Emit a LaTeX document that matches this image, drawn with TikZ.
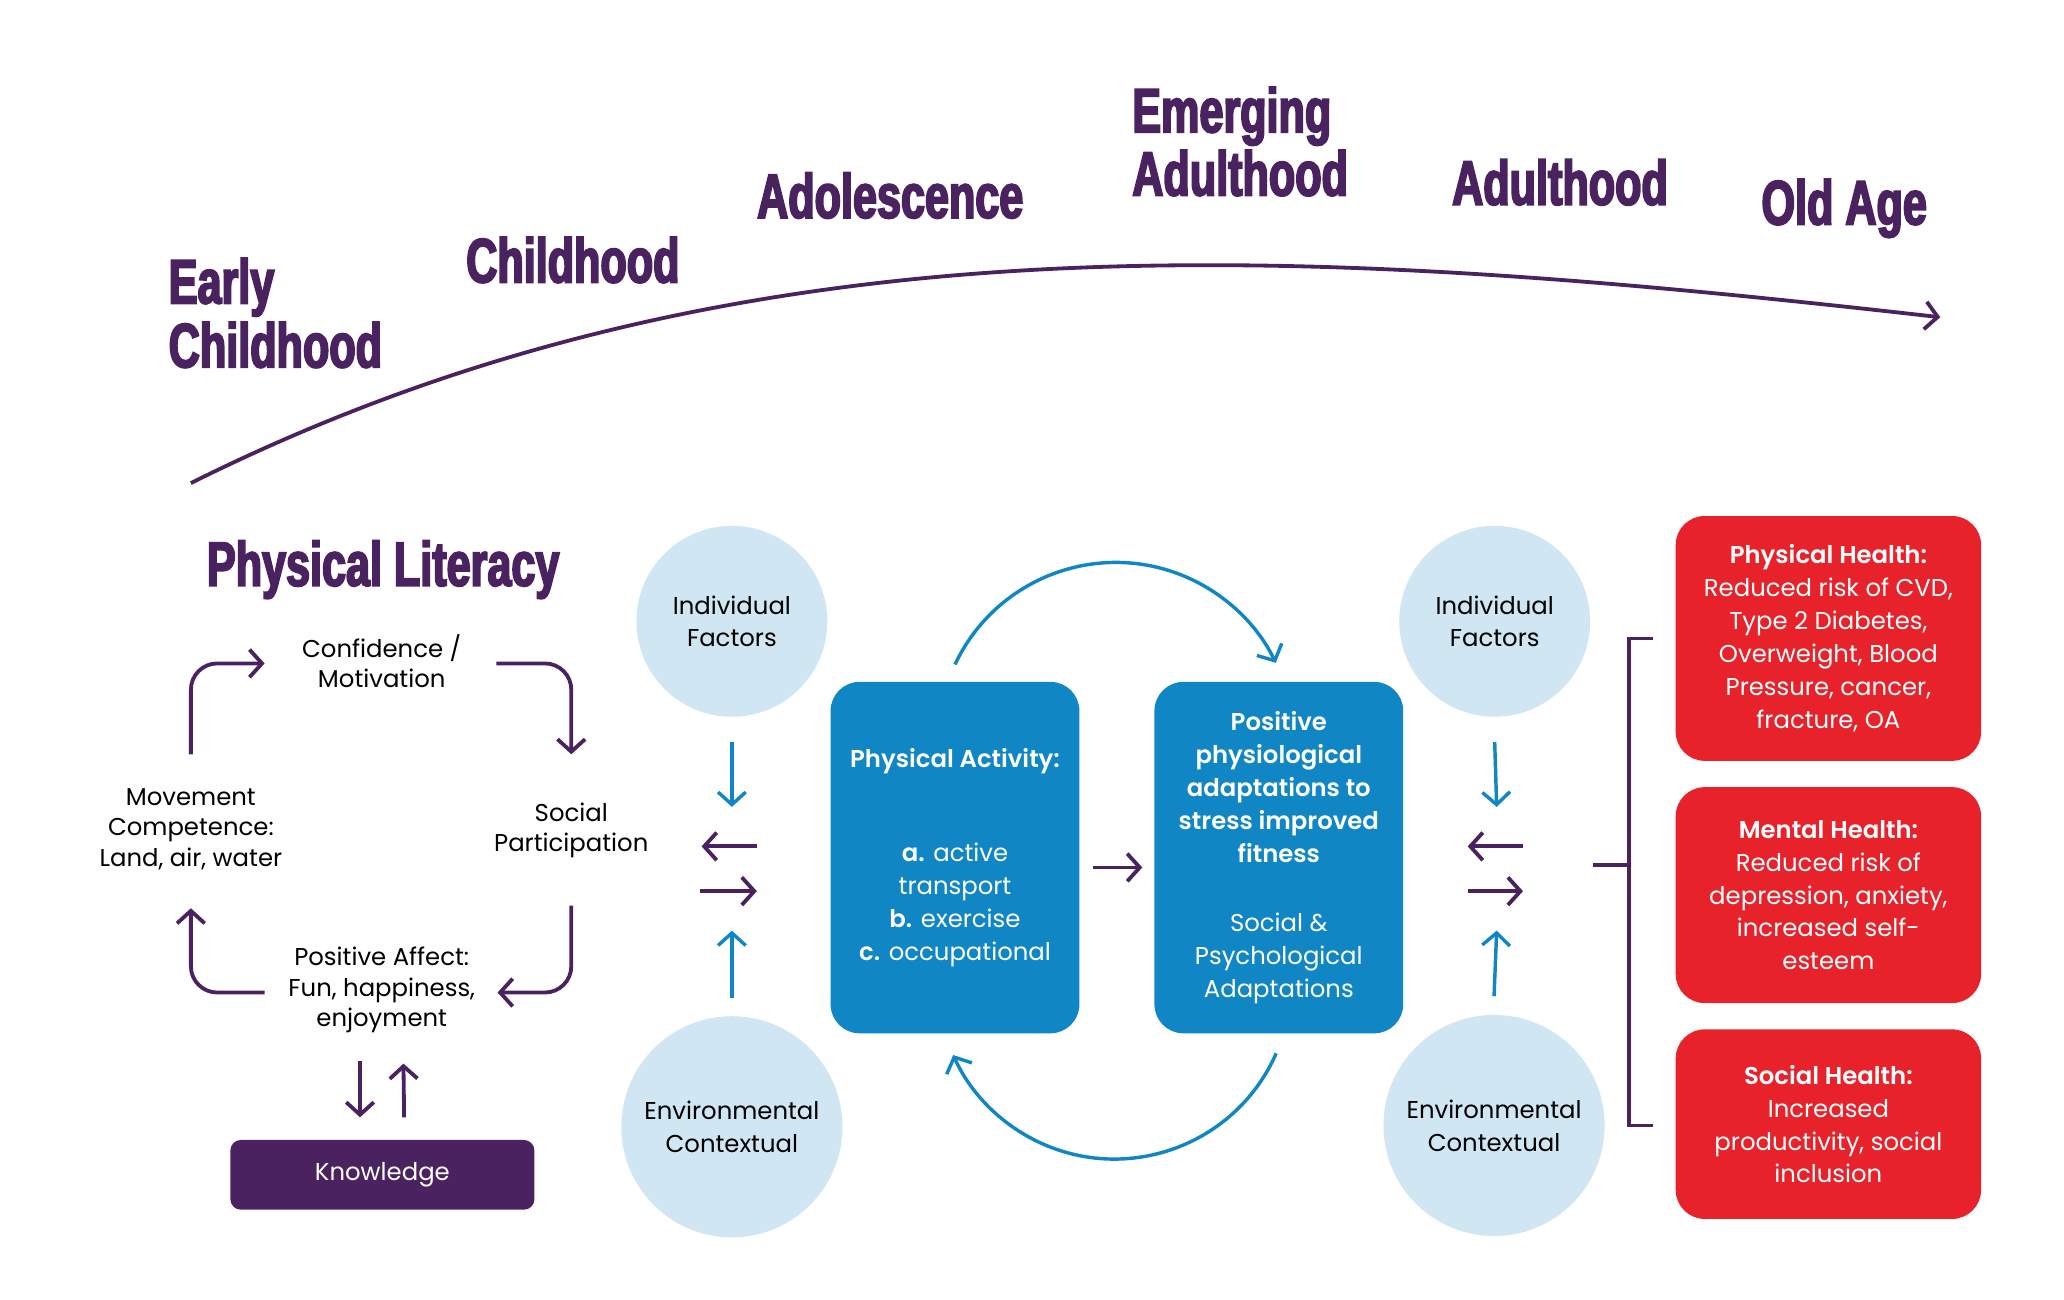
\documentclass[tikz,border=0pt]{standalone}
\usepackage{fontspec}
\setmainfont{Poppins}[BoldFont={Poppins SemiBold}]
\newfontfamily\headfont[FakeStretch=0.69,FakeBold=3]{Liberation Sans}
\usetikzlibrary{arrows.meta}
\definecolor{plum}{HTML}{4A2260}
\definecolor{azure}{HTML}{1186C4}
\definecolor{mist}{HTML}{D0E6F2}
\definecolor{alarm}{HTML}{E8222A}
\begin{document}
\begin{tikzpicture}[x=1pt,y=-1pt,
  every node/.style={inner sep=0pt},
  head/.style={font=\headfont\bfseries\fontsize{47.5}{48}\selectfont, text=plum, anchor=base west},
  body/.style={font=\fontsize{18.5}{25}\selectfont, align=center},
  cyc/.style={body, font=\fontsize{18.5}{23}\selectfont},
  bubble/.style={circle, fill=mist, body},
  bluebox/.style={rectangle, rounded corners=22pt, fill=azure, text=white, body,
    minimum width=189pt, minimum height=267pt},
  redbox/.style={rectangle, rounded corners=22pt, fill=alarm, text=white, body,
    minimum width=232pt},
  tip/.style={-{Straight Barb[length=9.5pt,width=21pt]}},
  parr/.style={draw=plum, line width=2.9pt, tip},
  barr/.style={draw=azure, line width=2.6pt, tip},
  pline/.style={draw=plum, line width=2.9pt, line join=miter}]

\useasboundingbox (0,0) rectangle (1568,987);
\fill[white] (0,0) rectangle (1568,987);

% life stages
\node[head] (early1) at (128,230.5) {Early};
\node[head] (early2) at (128,279) {Childhood};
\node[head] (child) at (354,214.5) {Childhood};
\node[head] (adol) at (575,165.5) {Adolescence};
\node[head] (emerg1) at (860,100.5) {Emerging};
\node[head] (emerg2) at (860,148.5) {Adulthood};
\node[head] (adult) at (1103,155.5) {Adulthood};
\node[head] (old) at (1338,170.5) {Old Age};

\coordinate (lifeS) at (145,367);
\coordinate (lifeE) at (1474,241);
\draw[parr] (lifeS) .. controls (560,160) and (980,185) .. (lifeE);

% physical literacy cycle
\node[head] (pl) at (157,445) {Physical Literacy};
\node[cyc] (conf) at (290,502) {Confidence /\\Motivation};
\node[cyc] (move) at (145,630) {Movement\\Competence:\\Land, air, water};
\node[cyc] (social) at (434,631) {Social\\Participation};
\node[cyc] (affect) at (290,752) {Positive Affect:\\Fun, happiness,\\enjoyment};
\node[rectangle, rounded corners=8pt, fill=plum, text=white, cyc,
  minimum width=231pt, minimum height=53pt] (know) at (290.5,892.5) {Knowledge};

\draw[parr, rounded corners=20pt] ([shift={(0,-57)}]move.center) |- ([shift={(-89,2)}]conf.center);
\draw[parr, rounded corners=20pt] ([shift={(87,2)}]conf.center) -| ([shift={(0,-58)}]social.center);
\draw[parr, rounded corners=20pt] ([shift={(0,57)}]social.center) |- ([shift={(88,2)}]affect.center);
\draw[parr, rounded corners=20pt] ([shift={(-89,2)}]affect.center) -| ([shift={(0,60)}]move.center);
\draw[parr] ([shift={(-16.5,54)}]affect.center) -- ([shift={(-17,-17)}]know.north);
\draw[parr] ([shift={(16.5,-17)}]know.north) -- ([shift={(16.5,56)}]affect.center);

% influencing factors, left
\node[bubble, minimum size=145pt] (indL) at (556,472) {Individual\\Factors};
\node[bubble, minimum size=168pt] (envL) at (556,856) {Environmental\\Contextual};
\coordinate (hubL) at (556,660);
\draw[barr] ([shift={(0,19)}]indL.south) -- ([shift={(0,-47)}]hubL);
\draw[barr] ([shift={(0,-14)}]envL.north) -- ([shift={(0,47)}]hubL);
\draw[parr] ([shift={(19,-17)}]hubL) -- ([shift={(-23,-17)}]hubL);
\draw[parr] ([shift={(-24,17)}]hubL) -- ([shift={(19,17)}]hubL);

% activity and adaptations
\node[bluebox] (pa) at (725.5,651.5) {\textbf{Physical Activity:}\\[46pt]
  \textbf{a.} active\\transport\\\textbf{b.} exercise\\\textbf{c.} occupational};
\node[bluebox] (adapt) at (971.5,651.5) {\textbf{Positive}\\\textbf{physiological}\\
  \textbf{adaptations to}\\\textbf{stress improved}\\\textbf{fitness}\\[28pt]
  Social \&\\Psychological\\Adaptations};
\draw[parr] ([shift={(10,7.5)}]pa.east) -- ([shift={(-9,7.5)}]adapt.west);
\draw[barr] ([shift={(0,-13)}]pa.north) arc[start angle=205.2, end angle=334.2, radius=135];
\draw[barr] ([shift={(-2,15)}]adapt.south) arc[start angle=23.7, end angle=155.7, radius=134.3];

% influencing factors, right
\node[bubble, minimum size=145pt] (indR) at (1135.5,472) {Individual\\Factors};
\node[bubble, minimum size=168pt] (envR) at (1135,855) {Environmental\\Contextual};
\coordinate (hubR) at (1137,660);
\draw[barr] ([shift={(0,19)}]indR.south) -- ([shift={(0,-47)}]hubR);
\draw[barr] ([shift={(0,-14)}]envR.north) -- ([shift={(0,47)}]hubR);
\draw[parr] ([shift={(20,-17)}]hubR) -- ([shift={(-22,-17)}]hubR);
\draw[parr] ([shift={(-22,17)}]hubR) -- ([shift={(20,17)}]hubR);

% health outcomes
\node[redbox, minimum height=186pt] (phys) at (1389,485) {\textbf{Physical Health:}\\
  Reduced risk of CVD,\\Type 2 Diabetes,\\Overweight, Blood\\Pressure, cancer,\\fracture, OA};
\node[redbox, minimum height=164pt] (ment) at (1389,680) {\textbf{Mental Health:}\\
  Reduced risk of\\depression, anxiety,\\increased self-\\esteem};
\node[redbox, minimum height=144pt] (soc) at (1389,854) {\textbf{Social Health:}\\
  Increased\\productivity, social\\inclusion};

\coordinate (brkMid) at (1210,657);
\draw[pline] ([shift={(-17,0)}]phys.west) -- ++(-18,0) |- ([shift={(-17,1)}]soc.west);
\draw[pline] (brkMid) -- ++(28,0);
\end{tikzpicture}
\end{document}
